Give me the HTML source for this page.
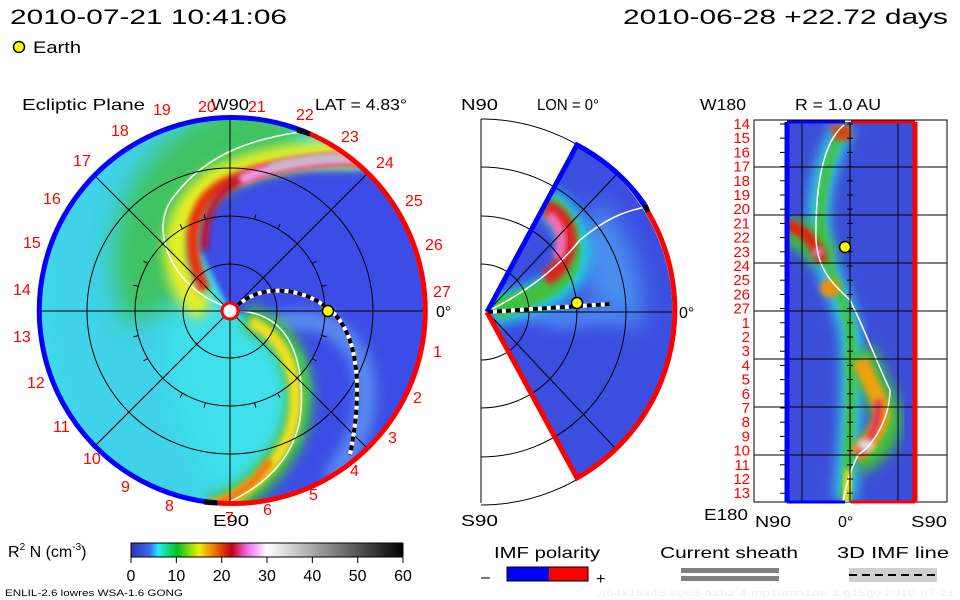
<!DOCTYPE html>
<html><head><meta charset="utf-8"><style>
html,body{margin:0;padding:0;background:#fff;}
svg{display:block;font-family:"Liberation Sans",sans-serif;}
</style></head><body>
<svg id="s" width="960" height="600" viewBox="0 0 960 600" xmlns="http://www.w3.org/2000/svg">
<defs>
<filter id="b6" x="-50%" y="-50%" width="200%" height="200%"><feGaussianBlur stdDeviation="6"/></filter>
<filter id="b3" x="-50%" y="-50%" width="200%" height="200%"><feGaussianBlur stdDeviation="3"/></filter>
<filter id="b12" x="-50%" y="-50%" width="200%" height="200%"><feGaussianBlur stdDeviation="12"/></filter>
<clipPath id="cl"><circle cx="230" cy="311" r="193"/></clipPath>
<clipPath id="cm"><path d="M487 312 L577 145 A193 193 0 0 1 577 478 Z"/></clipPath>
<clipPath id="cr"><rect x="787" y="122" width="128" height="380"/></clipPath>
<linearGradient id="cbar" x1="0" x2="1" y1="0" y2="0">
<stop offset="0" stop-color="#3030b0"/><stop offset="0.07" stop-color="#3a6af0"/>
<stop offset="0.1" stop-color="#20f0f0"/><stop offset="0.17" stop-color="#00c020"/>
<stop offset="0.25" stop-color="#f0f000"/><stop offset="0.3" stop-color="#f08000"/>
<stop offset="0.37" stop-color="#c00010"/><stop offset="0.43" stop-color="#f070f0"/>
<stop offset="0.5" stop-color="#ffffff"/><stop offset="1" stop-color="#000000"/>
</linearGradient>
</defs>

<text x="10" y="24" font-size="21" textLength="277" lengthAdjust="spacingAndGlyphs">2010-07-21 10:41:06</text>
<text x="623" y="24" font-size="21" textLength="325" lengthAdjust="spacingAndGlyphs">2010-06-28 +22.72 days</text>
<circle cx="19" cy="47" r="5.5" fill="#ffff00" stroke="#000" stroke-width="1.5"/>
<text x="33" y="53" font-size="17" textLength="48" lengthAdjust="spacingAndGlyphs">Earth</text>

<g>
<text x="22" y="110" font-size="16" textLength="123" lengthAdjust="spacingAndGlyphs">Ecliptic Plane</text>
<text x="315" y="110" font-size="16" textLength="92" lengthAdjust="spacingAndGlyphs">LAT = 4.83°</text>
<g clip-path="url(#cl)">
<circle cx="230" cy="311" r="193" fill="#3fe0ea"/>
<path d="M40 180 Q120 90 260 110 L260 160 Q190 180 170 300 Q150 420 230 505 L120 505 Q30 420 40 180Z" fill="#40c8e8" filter="url(#b12)" opacity="0.6"/>
<path d="M230 311 L200 250 L207 217 L227 190 L260 177 L303 170 L363 170 L430 200 L440 320 L430 460 L240 510 L253 490 L300 440 L310 390 L303 357 L273 323 Z" fill="#3a4ee6" filter="url(#b3)"/>
<path d="M260 330 Q330 300 360 360 Q380 420 330 480" fill="none" stroke="#5a8af0" stroke-width="20" filter="url(#b6)"/>
<path d="M160 311 C120 230 180 130 300 125" fill="none" stroke="#40c040" stroke-width="70" filter="url(#b12)" opacity="0.8"/>
<path d="M205 311 C165 280 165 215 215 180 C255 158 320 150 360 155" fill="none" stroke="#e8f020" stroke-width="24" filter="url(#b6)"/>
<path d="M205 290 C185 250 188 205 222 185 C260 165 320 157 360 160" fill="none" stroke="#e83010" stroke-width="12" filter="url(#b3)"/>
<path d="M205 250 C202 218 215 193 240 180 C270 166 320 158 360 160" fill="none" stroke="#c01030" stroke-width="8" filter="url(#b3)"/>
<path d="M240 180 C270 166 320 156 370 160" fill="none" stroke="#f0a0f0" stroke-width="10" filter="url(#b3)"/>
<path d="M270 167 C300 159 330 155 370 158" fill="none" stroke="#c0c0c0" stroke-width="8" filter="url(#b3)"/>
<path d="M245 318 C300 330 310 400 290 440 C270 480 240 500 210 510" fill="none" stroke="#40c040" stroke-width="26" filter="url(#b6)"/>
<path d="M250 322 C295 340 305 400 287 440 C268 478 240 497 210 508" fill="none" stroke="#f0e020" stroke-width="12" filter="url(#b3)"/>
<path d="M270 460 C255 485 235 498 205 508" fill="none" stroke="#f07010" stroke-width="8" filter="url(#b3)"/>
<path d="M225 306 C175 290 145 230 175 195 C210 150 260 138 300 132" fill="none" stroke="#fff" stroke-width="1.5"/>
<path d="M240 311 C300 315 305 380 300 420 C290 470 250 495 210 510" fill="none" stroke="#fff" stroke-width="1.5"/>
</g>
<g fill="none" stroke="#000" stroke-width="1">
<circle cx="230" cy="311" r="47"/><circle cx="230" cy="311" r="95"/><circle cx="230" cy="311" r="143"/>
<line x1="230" y1="118" x2="230" y2="504"/><line x1="37" y1="311" x2="423" y2="311"/>
<line x1="93" y1="174" x2="367" y2="448"/><line x1="93" y1="448" x2="367" y2="174"/>
</g>
<g id="ticks" stroke="#000" stroke-width="1"></g>
<path d="M308 133 A193 193 0 1 0 218 503" fill="none" stroke="#0000ff" stroke-width="5"/>
<path d="M308 133 A193 193 0 0 1 218 503" fill="none" stroke="#ff0000" stroke-width="5"/>
<path d="M297 130 A193 193 0 0 1 310 134" fill="none" stroke="#000" stroke-width="5"/>
<path d="M217 503 A193 193 0 0 1 204 502" fill="none" stroke="#000" stroke-width="5"/>
<path d="M238 305 C260 285 300 285 330 310 C355 330 365 380 350 455" fill="none" stroke="#fff" stroke-width="4"/>
<path d="M238 305 C260 285 300 285 330 310 C355 330 365 380 350 455" fill="none" stroke="#000" stroke-width="4" stroke-dasharray="5 4"/>
<circle cx="230" cy="311" r="8" fill="#fff" stroke="#ff0000" stroke-width="3"/>
<circle cx="328" cy="311" r="5.5" fill="#ffff00" stroke="#000" stroke-width="1.5"/>
<text x="211" y="110" font-size="16" textLength="38" lengthAdjust="spacingAndGlyphs">W90</text>
<text x="213" y="526" font-size="16" textLength="36" lengthAdjust="spacingAndGlyphs">E90</text>
<text x="436" y="317" font-size="16">0°</text>
<g id="daylabels" fill="#ff0000" font-size="16"></g>
</g>

<g>
<text x="461" y="110" font-size="16" textLength="37" lengthAdjust="spacingAndGlyphs">N90</text>
<text x="537" y="110" font-size="16" textLength="62" lengthAdjust="spacingAndGlyphs">LON = 0°</text>
<text x="461" y="526" font-size="16" textLength="37" lengthAdjust="spacingAndGlyphs">S90</text>
<text x="679" y="318" font-size="16">0°</text>
<g clip-path="url(#cm)">
<rect x="480" y="140" width="200" height="345" fill="#3c4ee0"/>
<path d="M600 200 Q650 260 640 330 L600 310 Q560 250 600 200Z" fill="#4a90f0" filter="url(#b12)"/>
<path d="M490 310 L600 300 L640 320 L560 330 Z" fill="#4a80f0" filter="url(#b6)"/>
<path d="M490 312 C530 300 570 290 575 260 C580 230 560 210 545 200" fill="none" stroke="#20d0e0" stroke-width="30" filter="url(#b6)"/>
<path d="M495 310 C530 298 565 285 570 260 C575 230 560 212 548 205" fill="none" stroke="#40c040" stroke-width="20" filter="url(#b3)"/>
<path d="M545 278 C562 270 572 250 567 230 C562 215 552 210 545 208" fill="none" stroke="#e02020" stroke-width="16" filter="url(#b3)"/>
<path d="M557 258 C566 240 560 225 548 215" fill="none" stroke="#f070c0" stroke-width="10" filter="url(#b3)"/>
<path d="M490 310 C530 290 560 265 580 240 C610 215 630 210 650 206" fill="none" stroke="#fff" stroke-width="1.5"/>
</g>
<g fill="none" stroke="#000" stroke-width="1">
<path d="M481 264 A48 48 0 0 1 481 360"/><path d="M481 216 A96 96 0 0 1 481 408"/>
<path d="M481 167 A145 145 0 0 1 481 457"/><path d="M481 119 A193 193 0 0 1 481 505"/>
<line x1="481" y1="119" x2="481" y2="503"/>
<line x1="487" y1="312" x2="672" y2="312"/>
<line x1="487" y1="312" x2="616" y2="175"/><line x1="487" y1="312" x2="616" y2="449"/>
</g>
<path d="M487 312 L577 145 A193 193 0 0 1 645 205" fill="none" stroke="#0000ff" stroke-width="5"/>
<path d="M645 205 A193 193 0 0 1 648 212" fill="none" stroke="#000" stroke-width="5"/>
<path d="M648 212 A193 193 0 0 1 577 478 L487 312" fill="none" stroke="#ff0000" stroke-width="5"/>
<line x1="488" y1="312" x2="610" y2="304" stroke="#fff" stroke-width="4"/>
<line x1="488" y1="312" x2="610" y2="304" stroke="#000" stroke-width="4" stroke-dasharray="5 4"/>
<circle cx="577" cy="303" r="5.5" fill="#ffff00" stroke="#000" stroke-width="1.5"/>
</g>

<g>
<text x="795" y="110" font-size="16" textLength="86" lengthAdjust="spacingAndGlyphs">R = 1.0 AU</text>
<text x="700" y="110" font-size="16" textLength="46" lengthAdjust="spacingAndGlyphs">W180</text>
<text x="704" y="520" font-size="16" textLength="44" lengthAdjust="spacingAndGlyphs">E180</text>
<text x="755" y="527" font-size="16" textLength="36" lengthAdjust="spacingAndGlyphs">N90</text>
<text x="838" y="527" font-size="16">0°</text>
<text x="911" y="527" font-size="16" textLength="36" lengthAdjust="spacingAndGlyphs">S90</text>
<rect x="754" y="120" width="193" height="382" fill="#fff" stroke="#000"/>
<g clip-path="url(#cr)">
<rect x="787" y="122" width="128" height="380" fill="#3c4ed8"/>
<path d="M845 125 C825 160 815 200 820 240 C825 270 840 290 850 330 C855 370 850 440 845 500" fill="none" stroke="#30d0e0" stroke-width="22" filter="url(#b6)"/>
<path d="M845 125 C825 160 818 200 822 240 C828 270 845 300 850 330 C852 380 850 440 845 500" fill="none" stroke="#40c040" stroke-width="9" filter="url(#b3)"/>
<path d="M830 125 L850 125 L852 140 L835 140Z" fill="#e04010" filter="url(#b3)"/>
<path d="M785 230 C810 235 820 250 825 260" fill="none" stroke="#40c040" stroke-width="30" filter="url(#b6)"/>
<path d="M787 225 C805 230 818 245 822 262" fill="none" stroke="#e02010" stroke-width="12" filter="url(#b3)"/>
<circle cx="818" cy="252" r="5" fill="#f080c0" filter="url(#b3)"/>
<ellipse cx="830" cy="288" rx="10" ry="9" fill="#f09010" filter="url(#b3)"/>
<path d="M860 350 C870 380 885 400 888 420 C885 440 870 455 855 460" fill="none" stroke="#40c040" stroke-width="30" filter="url(#b6)"/>
<path d="M860 360 C870 385 880 395 882 415 C880 430 868 445 855 455" fill="none" stroke="#f0a010" stroke-width="16" filter="url(#b3)"/>
<path d="M878 400 C880 425 870 440 858 455" fill="none" stroke="#e03060" stroke-width="8" filter="url(#b3)"/>
<ellipse cx="866" cy="445" rx="8" ry="6" fill="#e0e0e0" filter="url(#b3)"/>
<path d="M850 470 C848 485 846 495 845 505" fill="none" stroke="#e0e020" stroke-width="10" filter="url(#b3)"/>
<path d="M844 125 C825 140 815 180 816 240 C818 275 840 290 850 300 C865 330 880 370 890 390 C890 410 880 440 858 455 C850 470 845 490 843 502" fill="none" stroke="#fff" stroke-width="1.5"/>
</g>
<g id="rgrid" stroke="#000" stroke-width="1"></g>
<line x1="787" y1="122" x2="787" y2="502" stroke="#0000ff" stroke-width="5"/>
<line x1="915" y1="122" x2="915" y2="502" stroke="#ff0000" stroke-width="5"/>
<line x1="787" y1="122" x2="845" y2="122" stroke="#0000ff" stroke-width="3"/>
<line x1="851" y1="122" x2="915" y2="122" stroke="#ff0000" stroke-width="3"/>
<line x1="787" y1="502" x2="845" y2="502" stroke="#0000ff" stroke-width="3"/>
<line x1="851" y1="502" x2="915" y2="502" stroke="#ff0000" stroke-width="3"/>
<circle cx="845" cy="247" r="5.5" fill="#ffff00" stroke="#000" stroke-width="1.5"/>
<g id="rdays" fill="#ff0000" font-size="15"></g>
</g>

<g>
<text x="8" y="557" font-size="16">R<tspan font-size="10" dy="-7">2</tspan><tspan dy="7"> N (cm</tspan><tspan font-size="10" dy="-7">-3</tspan><tspan dy="7">)</tspan></text>
<rect x="131" y="543" width="272" height="14" fill="url(#cbar)" stroke="#000"/>
<g id="cticks"></g>
</g>
<text x="5" y="596" font-size="9" textLength="178" lengthAdjust="spacingAndGlyphs">ENLIL-2.6 lowres WSA-1.6 GONG</text>
<text x="595" y="596" font-size="9" fill="#f0f0f0" textLength="360" lengthAdjust="spacingAndGlyphs">.//64x15x45.2068-a2b2.4-mp1umn1de-1.g15g0   2010-07-21</text>
<g>
<text x="494" y="558" font-size="16" textLength="106" lengthAdjust="spacingAndGlyphs">IMF polarity</text>
<text x="481" y="582" font-size="16">–</text>
<rect x="507" y="567" width="42" height="14" fill="#0000ff"/>
<rect x="549" y="567" width="39" height="14" fill="#ff0000"/>
<rect x="507" y="567" width="81" height="14" fill="none" stroke="#000"/>
<text x="596" y="584" font-size="16">+</text>
</g>
<g>
<text x="660" y="558" font-size="16" textLength="138" lengthAdjust="spacingAndGlyphs">Current sheath</text>
<rect x="681" y="568" width="98" height="5" fill="#808080"/>
<rect x="681" y="576" width="98" height="5" fill="#808080"/>
</g>
<g>
<text x="837" y="558" font-size="16" textLength="112" lengthAdjust="spacingAndGlyphs">3D IMF line</text>
<rect x="849" y="568" width="88" height="14" fill="#d0d0d0"/>
<line x1="849" y1="575" x2="937" y2="575" stroke="#000" stroke-width="2" stroke-dasharray="8 5"/>
</g>
</svg>
<script>
const NS="http://www.w3.org/2000/svg";
const dayLabels=["20","21","22","23","24","25","26","27","1","2","3","4","5","6","7","8","9","10","11","12","13","14","15","16","17","18","19"];
const dayLabelX=[205,255,303,348,383,412,432,440,440,420,395,357,316,270,232,172,128,90,60,34,20,20,30,50,80,118,160];
const dayLabelY=[112,112,120,142,168,206,250,297,357,403,443,476,500,515,523,511,492,464,432,388,342,295,248,204,166,136,115];
const rDays=["14","15","16","17","18","19","20","21","22","23","24","25","26","27","1","2","3","4","5","6","7","8","9","10","11","12","13"];
const cbTicks=[0,10,20,30,40,50,60];
const cbMax=60;
const rGridH=[167,215,263,311,359,407,455];
const rGridV=[802,850,898];
function mk(tag,attrs,parent){const e=document.createElementNS(NS,tag);for(const k in attrs)e.setAttribute(k,attrs[k]);parent.appendChild(e);return e;}
const dl=document.getElementById('daylabels');
dayLabels.forEach((t,i)=>{const e=mk('text',{x:dayLabelX[i]-7,y:dayLabelY[i]},dl);


e.textContent=t;});
const rd=document.getElementById('rdays');
rDays.forEach((t,i)=>{const y=129+i*14.2;const e=mk('text',{x:750,y:y,'text-anchor':'end'},rd);


e.textContent=t;
mk('line',{x1:780,y1:y-5,x2:787,y2:y-5,stroke:'#000'},rd);
mk('line',{x1:847,y1:y-5,x2:853,y2:y-5,stroke:'#000'},rd);});
const rg=document.getElementById('rgrid');
rGridH.forEach(y=>mk('line',{x1:754,y1:y,x2:947,y2:y},rg));
rGridV.forEach(x=>mk('line',{x1:x,y1:122,x2:x,y2:502},rg));
const ct=document.getElementById('cticks');
const cbX=v=>131+v/cbMax*272;
cbTicks.forEach(v=>{mk('line',{x1:cbX(v),y1:557,x2:cbX(v),y2:563,stroke:'#000'},ct);
const e=mk('text',{x:cbX(v),y:581,'font-size':16,'text-anchor':'middle'},ct);


e.textContent=v;});
const tk=document.getElementById('ticks');
for(let i=0;i<24;i++){const a=i*Math.PI/12;const r=95;
mk('line',{x1:230+r*Math.cos(a),y1:311+r*Math.sin(a),x2:230+(r+5)*Math.cos(a),y2:311+(r+5)*Math.sin(a)},tk);}
</script>
</body></html>
